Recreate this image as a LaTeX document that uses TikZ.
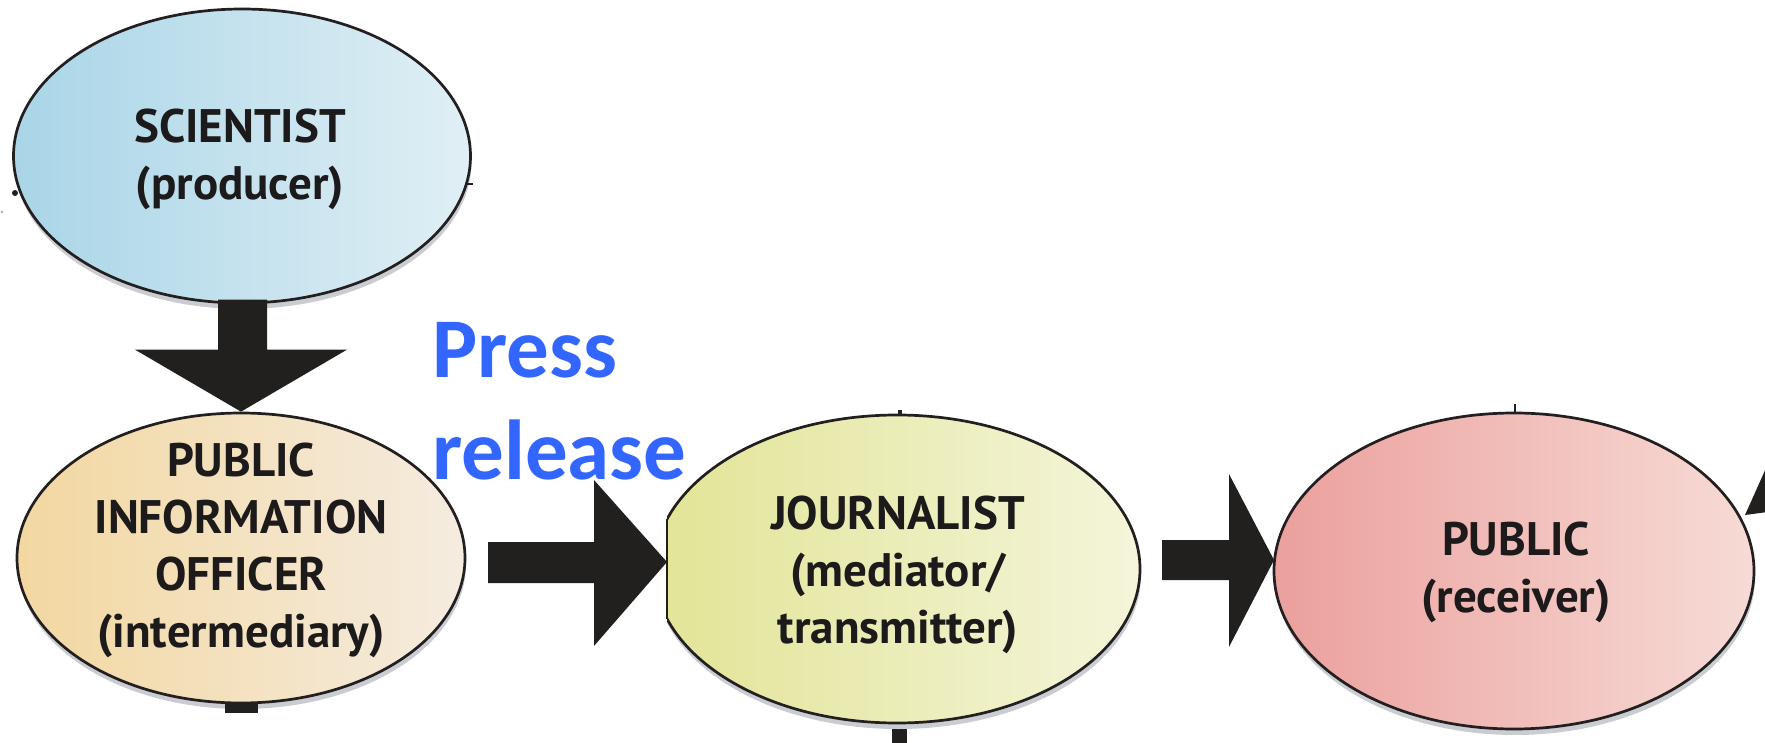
\documentclass[tikz,border=0pt]{standalone}
\usepackage{fontspec}
\setmainfont{PT Sans}
\newfontfamily\calfont{Carlito}
\usetikzlibrary{shapes.geometric}
\definecolor{outl}{HTML}{231F20}
\definecolor{arr}{HTML}{221F1F}
\definecolor{shad}{HTML}{C9CCD0}
\definecolor{txt}{HTML}{1C1A1A}
\definecolor{pressblue}{RGB}{51,102,255}
\definecolor{sciA}{HTML}{A9D5E7}
\definecolor{sciB}{HTML}{E0EFF5}
\definecolor{pioA}{HTML}{F2D7A0}
\definecolor{pioB}{HTML}{F5ECE0}
\definecolor{jouA}{HTML}{E2E496}
\definecolor{jouB}{HTML}{F4F5DA}
\definecolor{pubA}{HTML}{EBA09D}
\definecolor{pubB}{HTML}{F7DBD6}
\tikzset{
  bubble/.style={ellipse, draw=outl, line width=2.7pt, inner sep=0pt, shading angle=-35},
  shadowblob/.style={ellipse, fill=shad, draw=none, inner sep=0pt},
  lbl/.style={font=\bfseries\fontsize{47}{57}\selectfont, align=center, inner sep=0pt, text=txt},
  blockarrow/.style={fill=arr, draw=none},
  press/.style={font=\calfont\bfseries\fontsize{85}{102}\selectfont, align=left, inner sep=0pt, text=pressblue, anchor=north west}
}
\begin{document}
\begin{tikzpicture}[x=1pt,y=-1pt]
\useasboundingbox (0,0) rectangle (1765,743);
\clip (0,0) rectangle (1765,743);
\fill[white] (0,0) rectangle (1765,743);

% shadows
\node[shadowblob, minimum width=457pt, minimum height=294pt] (scish) at (243,162) {};
\node[shadowblob, minimum width=448pt, minimum height=290pt] (piosh) at (242,564) {};
\node[shadowblob, minimum width=480pt, minimum height=316pt] (pubsh) at (1515,577) {};

% coordinates of arrow tips
\coordinate (jouin) at (667,562);
\coordinate (pubin) at (1274,560);
\coordinate (wedgetip) at (1745,515);

% stubs below
\fill[arr] (225,690) rectangle (258,713);
\fill[arr] (892,715) rectangle (907,743);

% scientist ellipse
\node[bubble, minimum width=457pt, minimum height=294pt, left color=sciA, right color=sciB] (sci) at (242,156) {};

% PIO ellipse and down arrow scientist -> PIO
\node[bubble, minimum width=448pt, minimum height=290pt, left color=pioA, right color=pioB] (pio) at (241,558) {};
\fill[blockarrow, shift={(pio.north)}] (0,0) -- (-106,-62) -- (-23,-62) -- (-23,-112) -- (26,-112) -- (26,-62) -- (106,-62) -- cycle;

% journalist (clipped on its left)
\begin{scope}
  \clip (667,0) rectangle (1765,743);
  \node[shadowblob, minimum width=486pt, minimum height=308pt] (joush) at (898,575) {};
  \node[bubble, minimum width=486pt, minimum height=308pt, left color=jouA, right color=jouB] (jou) at (897,569) {};
\end{scope}
\draw[outl, line width=2.7pt] (667,519) -- (667,619);

% public
\node[bubble, minimum width=480pt, minimum height=316pt, left color=pubA, right color=pubB] (pub) at (1514,571) {};

% horizontal arrows
\fill[blockarrow, shift={(jouin)}] (0,0) -- (-73,-82) -- (-73,-20) -- (-179,-20) -- (-179,21) -- (-73,21) -- (-73,84) -- cycle;
\fill[blockarrow, shift={(pubin)}] (0,0) -- (-45,-86) -- (-45,-20) -- (-112,-20) -- (-112,20) -- (-45,20) -- (-45,87) -- cycle;
\fill[blockarrow, shift={(wedgetip)}] (0,0) -- (30,-67) -- (30,-4) -- cycle;

% small marks
\fill[arr] (15,193) circle (3);
\draw[arr, line width=2pt] (465,184) -- (473,184);
\fill[gray!60] (2,212) circle (1.5);
\fill[arr] (898,410) rectangle (902,414);
\draw[arr, line width=2.5pt] (1515,404) -- (1515,414);

% labels
\node[lbl] (scit) at (240,159) {SCIENTIST\\(producer)};
\node[lbl] (piot) at (241,550) {PUBLIC\\INFORMATION\\OFFICER\\(intermediary)};
\node[lbl] (jout) at (898,575) {JOURNALIST\\(mediator/\\transmitter)};
\node[lbl] (pubt) at (1516,572) {PUBLIC\\(receiver)};
\node[press] (pr) at (432,322) {Press\\release};
\end{tikzpicture}
\end{document}
